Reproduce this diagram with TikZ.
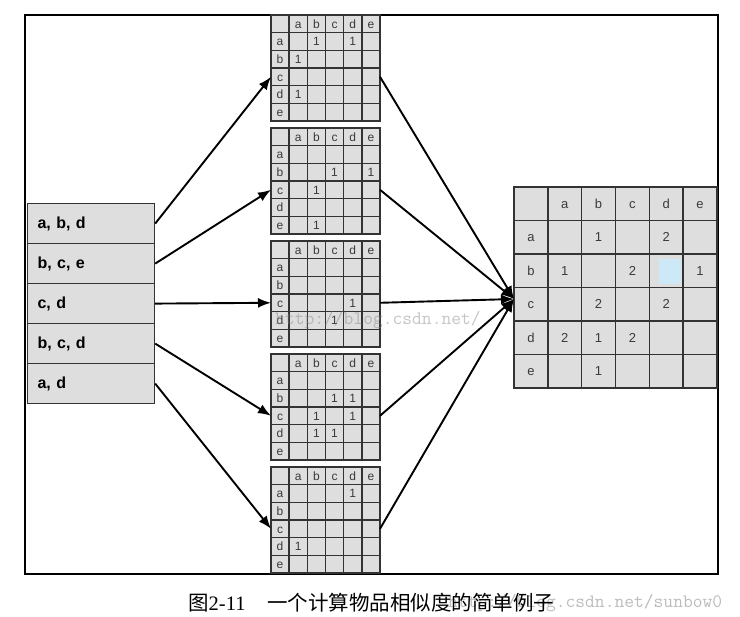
\documentclass[tikz,border=0pt]{standalone}
\usepackage{fontspec}
\setmainfont{Liberation Sans}
\newfontfamily\cjkf{Noto Sans CJK SC}
\newfontfamily\serifnum{Liberation Serif}
\usetikzlibrary{arrows.meta,calc}
\definecolor{cellgray}{HTML}{DEDEDE}
\definecolor{linegray}{HTML}{333333}
\definecolor{txtgray}{HTML}{3A3A3A}
\definecolor{cellblue}{HTML}{CDE8F6}
\definecolor{wmgray}{HTML}{BDBDBD}
\tikzset{
  lbox/.style={draw=linegray, line width=1.2pt, fill=cellgray, anchor=north west,
    minimum width=127pt, minimum height=40pt, inner xsep=10pt, inner ysep=0pt,
    text width=107pt, align=left, font=\bfseries\fontsize{16}{18}\selectfont},
  smat/.style={draw=linegray, line width=1.4pt, fill=cellgray, anchor=north west,
    minimum width=109pt, minimum height=106pt, inner sep=0pt, outer sep=0pt},
  bmat/.style={draw=linegray, line width=1.5pt, fill=cellgray, anchor=north west,
    minimum width=203pt, minimum height=201pt, inner sep=0pt, outer sep=0pt},
  gridl/.style={draw=linegray, line width=1.4pt},
  bgridl/.style={draw=linegray, line width=1.5pt},
  slab/.style={inner sep=0pt, text=txtgray, text height=8.7pt, text depth=0pt,
    font=\fontsize{12}{13}\selectfont},
  blab/.style={inner sep=0pt, text=txtgray, text height=9.4pt, text depth=0pt,
    font=\fontsize{13}{14}\selectfont},
  arr/.style={line width=1.9pt, -{Latex[length=13pt,width=10pt]}},
  wm/.style={inner sep=0pt, anchor=west, text=wmgray, font=\ttfamily\fontsize{19}{20}\selectfont},
}
\newcommand{\smgrid}[3]{%
  \node[smat] (m#1) at (271,#2) {};
  \foreach \k in {1,...,5} {
    \draw[gridl] (271+18.17*\k,#2) -- (271+18.17*\k,#2+106);
    \draw[gridl] (271,#2+17.67*\k) -- (380,#2+17.67*\k);
  }
  \foreach \lab [count=\k] in {a,b,c,d,e} {
    \node[slab] (m#1h\k) at (280+18.17*\k, #2+8.83) {\lab};
    \node[slab] (m#1r\k) at (280, #2+8.83+17.67*\k) {\lab};
  }
  \foreach \rr/\cc in {#3} {
    \node[slab] (m#1e\rr\cc) at (280+18.17*\cc, #2+8.83+17.67*\rr) {1};
  }
  \coordinate (in#1) at ($(m#1.north west)+(0,61.8)$);
  \coordinate (out#1) at ($(m#1.north east)+(0,61.8)$);
}
\begin{document}
\begin{tikzpicture}[x=1pt,y=-1pt]
\useasboundingbox (0,0) rectangle (740,617);
\fill[white] (0,0) rectangle (740,617);
\draw[line width=1.1pt] (25,15) rectangle (718,574);

% transaction list
\node[lbox] (r1) at (27,203) {a, b, d};
\node[lbox] (r2) at (27,243) {b, c, e};
\node[lbox] (r3) at (27,283) {c, d};
\node[lbox] (r4) at (27,323) {b, c, d};
\node[lbox] (r5) at (27,363) {a, d};

% small matrices
\smgrid{1}{15}{1/2,1/4,2/1,4/1}
\smgrid{2}{128}{2/3,2/5,3/2,5/2}
\smgrid{3}{241}{3/4,4/3}
\smgrid{4}{354}{2/3,2/4,3/2,3/4,4/2,4/3}
\smgrid{5}{467}{1/4,4/1}

% big matrix
\node[bmat] (big) at (514,187) {};
\fill[cellblue] (659,259) rectangle (681,284);
\foreach \k in {1,...,5} {
  \draw[bgridl] (514+33.83*\k,187) -- (514+33.83*\k,388);
  \draw[bgridl] (514,187+33.5*\k) -- (717,187+33.5*\k);
}
\foreach \lab [count=\k] in {a,b,c,d,e} {
  \node[blab] (bh\k) at (530.9+33.83*\k, 203.75) {\lab};
  \node[blab] (br\k) at (530.9, 203.75+33.5*\k) {\lab};
}
\foreach \rr/\cc/\v in {1/2/1,1/4/2,2/1/1,2/3/2,2/5/1,3/2/2,3/4/2,4/1/2,4/2/1,4/3/2,5/2/1} {
  \node[blab] (be\rr\cc) at (530.9+33.83*\cc, 203.75+33.5*\rr) {\v};
}
\coordinate (bigin) at ($(big.north west)+(0,112)$);

% watermark (middle)
\node[wm, text=gray, opacity=0.45] (wm2) at (275,320) {http://blog.csdn.net/};

% arrows
\foreach \i in {1,...,5} {
  \draw[arr] (r\i.east) -- (in\i);
  \draw[arr] (out\i) -- (bigin);
}

% caption and watermark
\node[wm] (wm1) at (448,603) {http://blog.csdn.net/sunbow0};
\node[anchor=west, inner sep=0pt] (cap) at (188,603)
  {\cjkf\fontsize{20.5}{24}\selectfont 图{\serifnum 2-11}\hspace{1.05em}一个计算物品相似度的简单例子};
\end{tikzpicture}
\end{document}
